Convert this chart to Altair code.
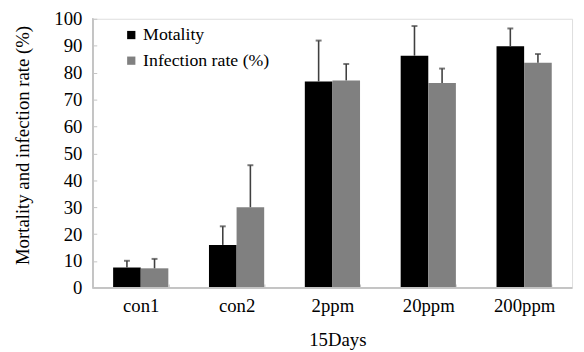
import altair as alt
import pandas as pd

categories = ["con1", "con2", "2ppm", "20ppm", "200ppm"]
series = ["Motality", "Infection rate (%)"]
motality = [7.6, 16.0, 76.7, 86.3, 89.8]
motality_err = [2.5, 6.9, 15.2, 11.0, 6.6]
infection = [7.3, 30.0, 77.1, 76.1, 83.7]
infection_err = [3.5, 15.6, 6.1, 5.4, 3.2]
y_ticks = list(range(0, 101, 10))

rows = []
for i, c in enumerate(categories):
    rows.append({"cat": c, "series": series[0], "v": motality[i], "hi": motality[i] + motality_err[i]})
    rows.append({"cat": c, "series": series[1], "v": infection[i], "hi": infection[i] + infection_err[i]})
df = pd.DataFrame(rows)

FONT = "Liberation Serif"
AX = "#c4c4c4"
W, H = 486, 273

xaxis = alt.Axis(title="15Days", labelAngle=0, labelFont=FONT, labelFontSize=19,
                 labelColor="#000", labelPadding=9, tickSize=4, offset=-4, tickBand="extent",
                 tickColor=AX, domain=False,
                 titleFont=FONT, titleFontSize=19, titleFontWeight="normal",
                 titleColor="#000", titleX=248, titleY=56, titleBaseline="middle")
xscale = alt.Scale(domain=categories, paddingInner=0.424, paddingOuter=0.212)
x = alt.X("cat:N", sort=categories, scale=xscale, axis=xaxis)

yaxis = alt.Axis(title="Mortality and infection rate (%)", values=y_ticks,
                 labelOverlap=False, grid=False, labelFont=FONT, labelFontSize=19,
                 labelColor="#000", labelPadding=11, tickSize=4, offset=-4, tickColor=AX,
                 domain=False,
                 titleFont=FONT, titleFontSize=19, titleFontWeight="normal",
                 titleColor="#000", titleX=-65, titleY=128, titleAngle=-90,
                 titleAlign="center", titleBaseline="bottom")
yscale = alt.Scale(domain=[0, 100], nice=False)

xo = alt.XOffset("series:N", sort=series, scale=alt.Scale(domain=series, paddingInner=0, paddingOuter=0))
color = alt.Color("series:N", sort=series,
                  scale=alt.Scale(domain=series, range=["#000000", "#808080"]),
                  legend=alt.Legend(title=None, orient="none", legendX=30, legendY=7.5,
                                    symbolType="square", symbolSize=70, symbolStrokeWidth=0,
                                    labelFont=FONT, labelFontSize=18, labelColor="#000",
                                    rowPadding=8, labelOffset=3))

base = alt.Chart(df)
bars = base.mark_bar(size=28).encode(
    x=x, xOffset=xo, y=alt.Y("v:Q", scale=yscale, axis=yaxis), color=color)
err = base.mark_rule(color="#404040", strokeWidth=1.6).encode(
    x=x, xOffset=xo, y=alt.Y("v:Q", scale=yscale, axis=yaxis), y2="hi:Q")
caps = base.mark_tick(color="#404040", size=6, thickness=2, orient="horizontal").encode(
    x=x, xOffset=xo, y=alt.Y("hi:Q", scale=yscale, axis=yaxis))
ydomain = base.mark_rule(color=AX, strokeWidth=1).encode(
    x=alt.value(0), y=alt.value(0), y2=alt.value(H))
xdomain = base.mark_rule(color=AX, strokeWidth=1).encode(
    x=alt.value(0), x2=alt.value(W), y=alt.value(H))

chart = alt.layer(bars, err, caps, ydomain, xdomain).properties(
    width=W, height=H,
    autosize=alt.AutoSizeParams(type="none"),
    padding={"left": 86, "top": 8.5, "right": 4, "bottom": 62},
).configure_view(stroke=None).configure(background="white")

chart.save("out.html", embed_options={"renderer": "svg", "actions": False})
